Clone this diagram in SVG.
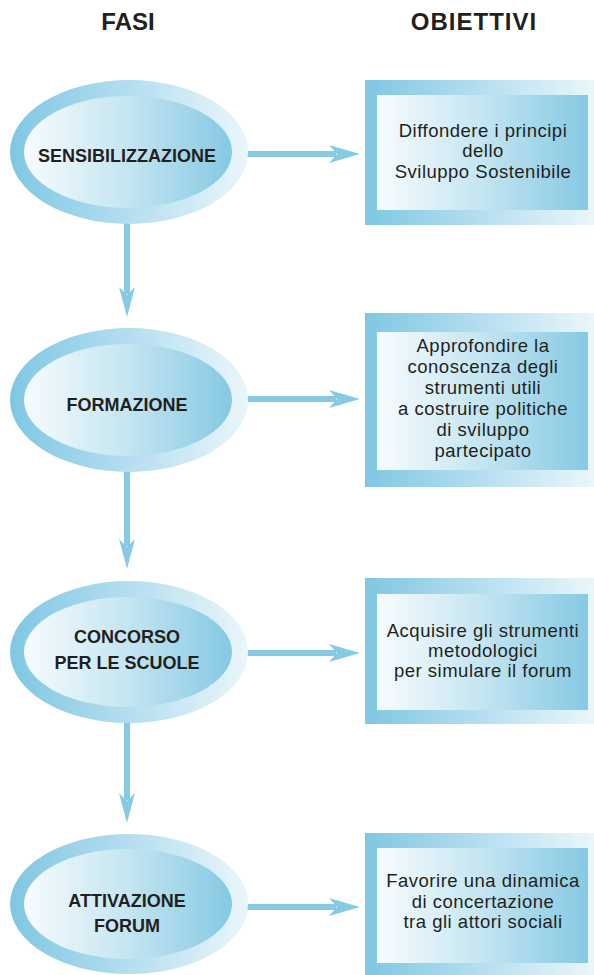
<svg xmlns="http://www.w3.org/2000/svg" width="594" height="975" viewBox="0 0 594 975">
<style>
.hdr{font-family:"Liberation Sans",Arial,sans-serif;font-weight:bold;font-size:24px;fill:#231f20;text-anchor:middle}
.phase{font-family:"Liberation Sans",Arial,sans-serif;font-weight:bold;font-size:18px;fill:#231f20;text-anchor:middle}
.goal{font-family:"Liberation Sans",Arial,sans-serif;font-size:18.5px;letter-spacing:0.5px;fill:#231f20;text-anchor:middle}
.conn line{stroke:#86cae4;stroke-width:6}
.conn polygon{fill:#86cae4}
</style>
<defs>
<linearGradient id="gOut" x1="0" y1="0" x2="1" y2="0">
<stop offset="0" stop-color="#7fc7e2"/>
<stop offset="0.5" stop-color="#b5def0"/>
<stop offset="1" stop-color="#eaf6fa"/>
</linearGradient>
<linearGradient id="gIn" x1="0" y1="0" x2="1" y2="0">
<stop offset="0" stop-color="#f7fcfe"/>
<stop offset="0.5" stop-color="#c4e5f1"/>
<stop offset="1" stop-color="#85c9e3"/>
</linearGradient>
</defs>

<text class="hdr" x="128" y="30">FASI</text>
<text class="hdr" x="474" y="30" style="letter-spacing:1px">OBIETTIVI</text>

<g id="connectors" class="conn">
<line x1="127" y1="222" x2="127" y2="294"/>
<polygon points="119,287 127,317 135,287 127,295"/>
<line x1="127" y1="471" x2="127" y2="546"/>
<polygon points="119,539 127,569 135,539 127,547"/>
<line x1="127" y1="722" x2="127" y2="800"/>
<polygon points="119,793 127,823 135,793 127,801"/>
<line x1="247" y1="154" x2="336" y2="154"/>
<polygon points="329,145 360,154 329,163 337,154"/>
<line x1="247" y1="399" x2="336" y2="399"/>
<polygon points="329,390 360,399 329,408 337,399"/>
<line x1="247" y1="653" x2="336" y2="653"/>
<polygon points="329,644 360,653 329,662 337,653"/>
<line x1="247" y1="907" x2="336" y2="907"/>
<polygon points="329,898 360,907 329,916 337,907"/>
</g>

<g id="fase1">
<ellipse cx="129" cy="152" rx="119" ry="72" fill="url(#gOut)"/>
<ellipse cx="128" cy="152" rx="104" ry="56" fill="url(#gIn)"/>
<text class="phase" x="127" y="162">SENSIBILIZZAZIONE</text>
</g>
<g id="fase2">
<ellipse cx="129" cy="400" rx="119" ry="72" fill="url(#gOut)"/>
<ellipse cx="128" cy="400" rx="104" ry="56" fill="url(#gIn)"/>
<text class="phase" x="127" y="411">FORMAZIONE</text>
</g>
<g id="fase3">
<ellipse cx="129" cy="652" rx="119" ry="71" fill="url(#gOut)"/>
<ellipse cx="128" cy="652" rx="104" ry="55" fill="url(#gIn)"/>
<text class="phase" x="127" y="643">CONCORSO</text>
<text class="phase" x="127" y="669">PER LE SCUOLE</text>
</g>
<g id="fase4">
<ellipse cx="129" cy="904" rx="119" ry="70" fill="url(#gOut)"/>
<ellipse cx="128" cy="904" rx="104" ry="55" fill="url(#gIn)"/>
<text class="phase" x="127" y="907">ATTIVAZIONE</text>
<text class="phase" x="127" y="932">FORUM</text>
</g>

<g id="obiettivo1">
<rect x="365" y="80" width="229" height="145" fill="url(#gOut)"/>
<rect x="377" y="95" width="211" height="115" fill="url(#gIn)"/>
<text class="goal" x="483" y="137">Diffondere i principi</text>
<text class="goal" x="483" y="157">dello</text>
<text class="goal" x="483" y="178">Sviluppo Sostenibile</text>
</g>
<g id="obiettivo2">
<rect x="365" y="313" width="229" height="174" fill="url(#gOut)"/>
<rect x="377" y="332" width="211" height="138" fill="url(#gIn)"/>
<text class="goal" x="483" y="352">Approfondire la</text>
<text class="goal" x="483" y="373">conoscenza degli</text>
<text class="goal" x="483" y="394">strumenti utili</text>
<text class="goal" x="483" y="415">a costruire politiche</text>
<text class="goal" x="483" y="436">di sviluppo</text>
<text class="goal" x="483" y="457">partecipato</text>
</g>
<g id="obiettivo3">
<rect x="365" y="578" width="229" height="146" fill="url(#gOut)"/>
<rect x="377" y="594" width="211" height="116" fill="url(#gIn)"/>
<text class="goal" x="483" y="637">Acquisire gli strumenti</text>
<text class="goal" x="483" y="657">metodologici</text>
<text class="goal" x="483" y="677">per simulare il forum</text>
</g>
<g id="obiettivo4">
<rect x="365" y="833" width="229" height="142" fill="url(#gOut)"/>
<rect x="377" y="848" width="211" height="115" fill="url(#gIn)"/>
<text class="goal" x="483" y="887">Favorire una dinamica</text>
<text class="goal" x="483" y="908">di concertazione</text>
<text class="goal" x="483" y="928">tra gli attori sociali</text>
</g>
</svg>
